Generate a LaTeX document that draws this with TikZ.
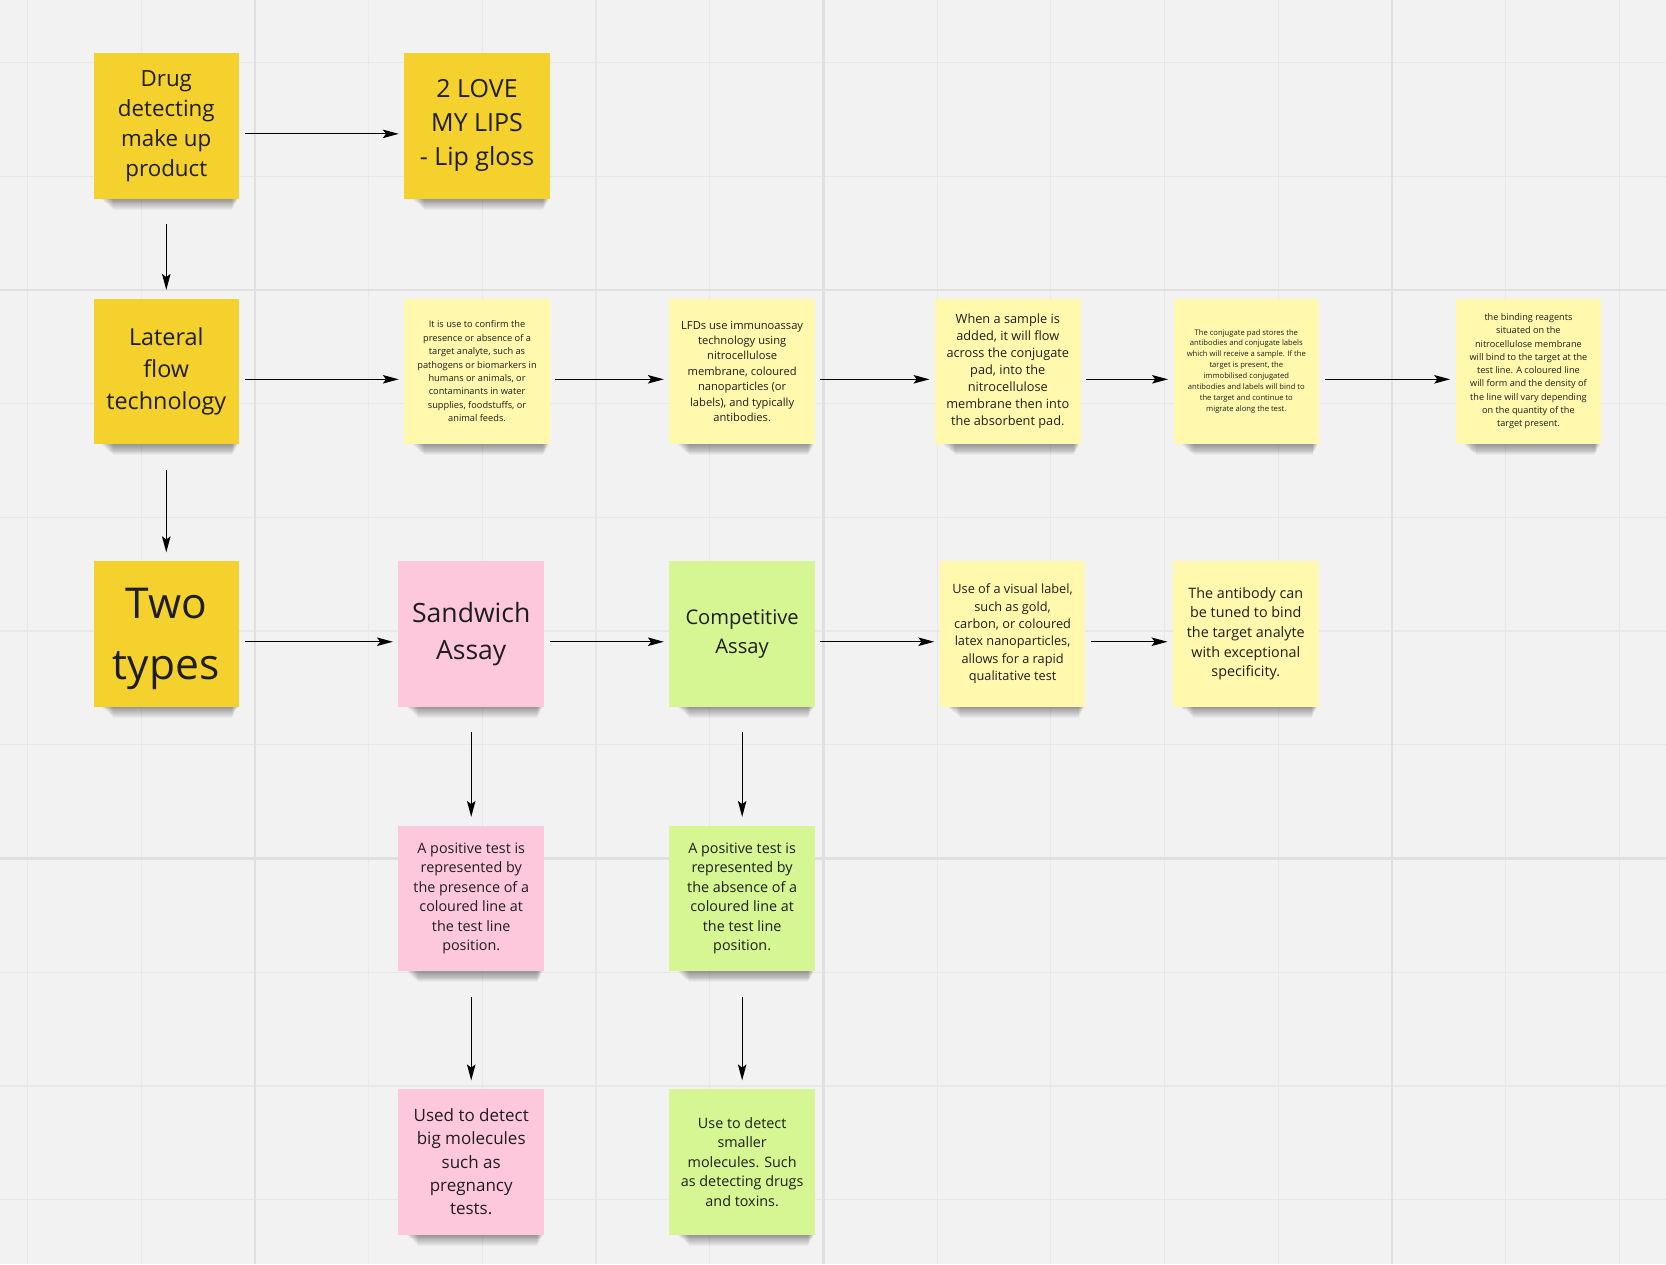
\documentclass[tikz,border=0pt]{standalone}
\usepackage{fontspec}
\setmainfont{Open Sans}
\usetikzlibrary{arrows.meta}
\definecolor{bg}{HTML}{F2F2F2}
\definecolor{gridminor}{HTML}{E8E8E8}
\definecolor{gridmajor}{HTML}{E0E0E0}
\definecolor{gold}{HTML}{F5D12E}
\definecolor{lightyel}{HTML}{FFF8AD}
\definecolor{pinknote}{HTML}{FEC8DC}
\definecolor{greennote}{HTML}{D6F593}
\definecolor{ink}{HTML}{1E1E1E}
\tikzset{
  note/.style={minimum width=137pt, minimum height=137pt, inner sep=0pt,
    align=center, text=ink},
  goldnote/.style={note, fill=gold},
  yelnote/.style={note, fill=lightyel},
  pnknote/.style={note, fill=pinknote},
  grnnote/.style={note, fill=greennote},
  fs/.style 2 args={font=\fontsize{#1}{#2}\selectfont},
  arr/.style={-{Stealth[length=15pt,width=8pt,inset=3pt]}, line width=1.1pt, draw=black},
  hz/.style={arr, shorten <=5pt, shorten >=5pt},
  vt/.style={arr, shorten <=24pt, shorten >=8pt},
  shadowlayer/.style={fill=black, opacity=0.034},
}
\begin{document}
\begin{tikzpicture}[x=1pt,y=-1pt]
\fill[bg] (0,0) rectangle (1568,1190);
\useasboundingbox (0,0) rectangle (1568,1190);
% grid
\foreach \gx in {26,133,...,1524} \draw[gridminor, line width=1.2pt] (\gx,0) -- (\gx,1190);
\foreach \gy in {59,166,...,1129} \draw[gridminor, line width=1.2pt] (0,\gy) -- (1568,\gy);
\foreach \gx in {240,775,1310} \draw[gridmajor, line width=2pt] (\gx,0) -- (\gx,1190);
\foreach \gy in {273,808} \draw[gridmajor, line width=2pt] (0,\gy) -- (1568,\gy);

% row 1
\node[goldnote, fs={21}{28.3}] (drug) at (156.5,118.5) {Drug\\detecting\\make up\\product};
\node[goldnote, fs={23.5}{32}] (love) at (449,118.5) {2 LOVE\\MY LIPS\\- Lip gloss};

% row 2
\node[goldnote, fs={22}{30}] (lat) at (156.5,349.5) {Lateral\\flow\\technology};
\node[yelnote, fs={8.7}{12.6}] (na) at (449,349.5) {It is use to confirm the\\presence or absence of a\\target analyte, such as\\pathogens or biomarkers in\\humans or animals, or\\contaminants in water\\supplies, foodstuffs, or\\animal feeds.};
\node[yelnote, fs={10.5}{14.5}] (nb) at (698.5,349.5) {LFDs use immunoassay\\technology using\\nitrocellulose\\membrane, coloured\\nanoparticles (or\\labels), and typically\\antibodies.};
\node[yelnote, fs={12}{16}] (nc) at (948.5,349.5) {When a sample is\\added, it will flow\\across the conjugate\\pad, into the\\nitrocellulose\\membrane then into\\the absorbent pad.};
\node[yelnote, fs={7.2}{10.3}] (nd) at (1173,349.5) {The conjugate pad stores the\\antibodies and conjugate labels\\which will receive a sample. If the\\target is present, the\\immobilised conjugated\\antibodies and labels will bind to\\the target and continue to\\migrate along the test.};
\node[yelnote, fs={8.6}{12.5}] (ne) at (1438.5,349.5) {the binding reagents\\situated on the\\nitrocellulose membrane\\will bind to the target at the\\test line. A coloured line\\will form and the density of\\the line will vary depending\\on the quantity of the\\target present.};

% row 3
\node[goldnote, fs={40}{57}] (two) at (156.5,596.5) {\rule{0pt}{38pt}Two\\types};
\node[pnknote, fs={25}{35}] (sand) at (443.5,596.5) {Sandwich\\Assay};
\node[grnnote, fs={19}{27}] (comp) at (698.5,596.5) {Competitive\\Assay};
\node[yelnote, fs={12}{16.3}] (nf) at (953,596.5) {Use of a visual label,\\such as gold,\\carbon, or coloured\\latex nanoparticles,\\allows for a rapid\\qualitative test};
\node[yelnote, fs={13.5}{18.5}] (ng) at (1172.5,596.5) {The antibody can\\be tuned to bind\\the target analyte\\with exceptional\\specificity.};

% row 4
\node[pnknote, fs={13.5}{18.4}] (p4) at (443.5,845.5) {A positive test is\\represented by\\the presence of a\\coloured line at\\the test line\\position.};
\node[grnnote, fs={13.5}{18.4}] (g4) at (698.5,845.5) {A positive test is\\represented by\\the absence of a\\coloured line at\\the test line\\position.};

% row 5
\node[pnknote, fs={16}{22}] (p5) at (443.5,1093.5) {Used to detect\\big molecules\\such as\\pregnancy\\tests.};
\node[grnnote, fs={13.5}{18.4}] (g5) at (698.5,1093.5) {Use to detect\\smaller\\molecules. Such\\as detecting drugs\\and toxins.};

% soft shadows under each note
\foreach \nn in {drug,love,lat,na,nb,nc,nd,ne,two,sand,comp,nf,ng,p4,g4,p5,g5}{
  \foreach \k [evaluate=\k as \xl using 7+1.0*\k,
               evaluate=\k as \xr using -1-0.45*\k,
               evaluate=\k as \yb using -0.85*\k] in {1,...,12}{
    \fill[shadowlayer] ([xshift=\xl pt]\nn.south west) rectangle ([xshift=\xr pt,yshift=\yb pt]\nn.south east);
  }
}

% connectors
\draw[hz] ([yshift=-7.5pt]drug.east) -- ([yshift=-7.5pt]love.west);
\draw[vt] (drug.south) -- (lat.north);
\draw[hz] ([yshift=-7.5pt]lat.east) -- ([yshift=-7.5pt]na.west);
\draw[hz] ([yshift=-7.5pt]na.east) -- ([yshift=-7.5pt]nb.west);
\draw[hz] ([yshift=-7.5pt]nb.east) -- ([yshift=-7.5pt]nc.west);
\draw[hz] ([yshift=-7.5pt]nc.east) -- ([yshift=-7.5pt]nd.west);
\draw[hz] ([yshift=-7.5pt]nd.east) -- ([yshift=-7.5pt]ne.west);
\draw[vt] (lat.south) -- (two.north);
\draw[hz] ([yshift=-7.5pt]two.east) -- ([yshift=-7.5pt]sand.west);
\draw[hz] ([yshift=-7.5pt]sand.east) -- ([yshift=-7.5pt]comp.west);
\draw[hz] ([yshift=-7.5pt]comp.east) -- ([yshift=-7.5pt]nf.west);
\draw[hz] ([yshift=-7.5pt]nf.east) -- ([yshift=-7.5pt]ng.west);
\draw[vt] (sand.south) -- (p4.north);
\draw[vt] (p4.south) -- (p5.north);
\draw[vt] (comp.south) -- (g4.north);
\draw[vt] (g4.south) -- (g5.north);
\end{tikzpicture}
\end{document}
